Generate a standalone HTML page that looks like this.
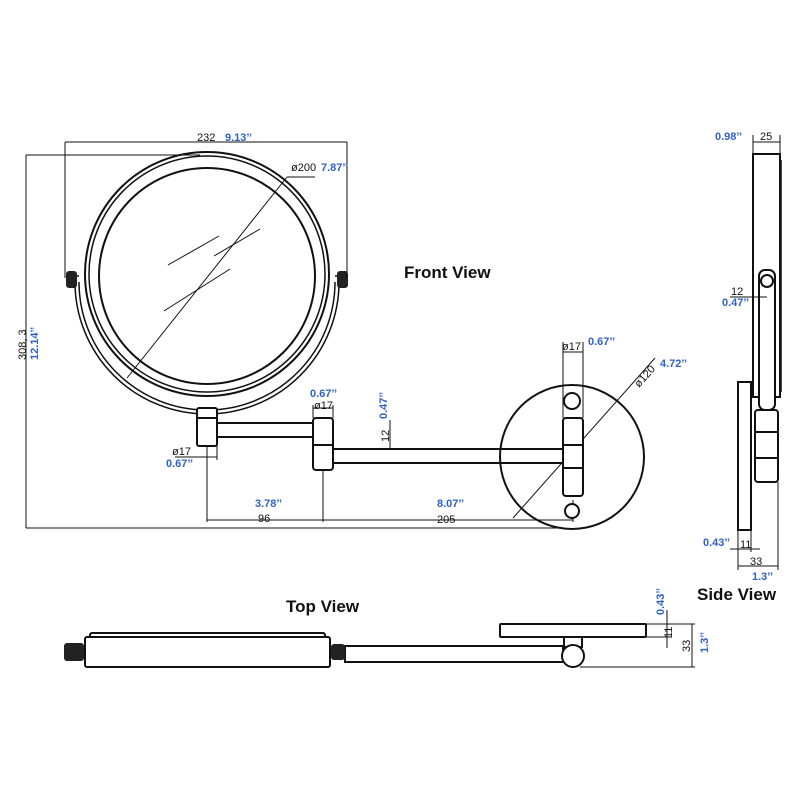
<!DOCTYPE html>
<html><head><style>
html,body{margin:0;padding:0;background:#fff;}
svg{display:block;}
text{font-family:"Liberation Sans",sans-serif;}
.k{font-size:11px;fill:#111;}
.b{font-size:11px;fill:#2f62c8;font-weight:bold;}
.t{font-size:17px;font-weight:bold;fill:#111;}
</style></head><body>
<svg width="800" height="800" viewBox="0 0 800 800" xmlns="http://www.w3.org/2000/svg">
<rect width="800" height="800" fill="#fff"/>
<g fill="none" stroke="#111" stroke-width="2">
<!-- mirror -->
<circle cx="207" cy="274" r="122"/>
<circle cx="207" cy="274" r="118" stroke-width="1.5"/>
<circle cx="207" cy="276" r="108"/>
<path d="M79 282 A128 128 0 0 0 335 282" stroke-width="1.5"/>
<path d="M75 282 A132 132 0 0 0 339 282" stroke-width="1.5"/>
<line x1="75" y1="276" x2="79" y2="276" stroke-width="1.5"/>
<line x1="335" y1="276" x2="339" y2="276" stroke-width="1.5"/>
</g>
<rect x="66" y="271" width="11" height="17" rx="3" fill="#222"/>
<rect x="337" y="271" width="11" height="17" rx="3" fill="#222"/>
<g stroke="#111" stroke-width="1" fill="none">
<line x1="127" y1="378" x2="287" y2="177"/>
<line x1="168" y1="265" x2="219" y2="236"/>
<line x1="214" y1="256" x2="260" y2="229"/>
<line x1="164" y1="311" x2="230" y2="269"/>
<line x1="287" y1="177" x2="315" y2="177"/>
<!-- dims -->
<line x1="65" y1="142" x2="347" y2="142"/>
<line x1="65" y1="142" x2="65" y2="278"/>
<line x1="347" y1="142" x2="347" y2="278"/>
<line x1="26" y1="155" x2="26" y2="528"/>
<line x1="26" y1="155" x2="200" y2="155"/>
<line x1="26" y1="528" x2="560" y2="528"/>
<line x1="207" y1="447" x2="207" y2="522"/>
<line x1="323" y1="470" x2="323" y2="522"/>
<line x1="207" y1="520" x2="573" y2="520"/>
<line x1="573" y1="500" x2="573" y2="522"/>
<line x1="175" y1="457" x2="217" y2="457"/>
<line x1="217" y1="445" x2="217" y2="460"/>
<line x1="313" y1="405" x2="313" y2="418"/>
<line x1="333" y1="405" x2="333" y2="418"/>
<line x1="313" y1="408" x2="333" y2="408"/>
<line x1="390" y1="420" x2="390" y2="463"/>
<line x1="563" y1="342" x2="563" y2="418"/>
<line x1="583" y1="342" x2="583" y2="418"/>
<line x1="563" y1="352" x2="583" y2="352"/>
<line x1="513" y1="518" x2="655" y2="358"/>
</g>
<!-- arm -->
<g fill="#fff" stroke="#111" stroke-width="2">
<rect x="217" y="423" width="98" height="14"/>
<rect x="333" y="449" width="232" height="14"/>
<rect x="197" y="408" width="20" height="38" rx="2"/>
<line x1="197" y1="418" x2="217" y2="418"/>
<rect x="313" y="418" width="20" height="52" rx="3"/>
<line x1="313" y1="445" x2="333" y2="445"/>
<circle cx="572" cy="457" r="72" fill="none"/>
<circle cx="572" cy="401" r="8"/>
<circle cx="572" cy="511" r="7"/>
<rect x="563" y="418" width="20" height="78" rx="3"/>
<line x1="563" y1="445" x2="583" y2="445"/>
<line x1="563" y1="468" x2="583" y2="468"/>
</g>
<!-- side view -->
<g fill="#fff" stroke="#111" stroke-width="2">
<rect x="753" y="154" width="27" height="243"/>
<line x1="781" y1="160" x2="781" y2="392" stroke-width="1.5"/>
<rect x="759" y="270" width="16" height="140" rx="6"/>
<circle cx="767" cy="281" r="6"/>
<rect x="738" y="382" width="13" height="148"/>
<rect x="755" y="410" width="23" height="72" rx="3"/>
<line x1="755" y1="432" x2="778" y2="432"/>
<line x1="755" y1="458" x2="778" y2="458"/>
</g>
<g stroke="#111" stroke-width="1" fill="none">
<line x1="753" y1="142" x2="780" y2="142"/>
<line x1="753" y1="135" x2="753" y2="154"/><line x1="780" y1="135" x2="780" y2="154"/>
<line x1="730" y1="297" x2="767" y2="297"/>
<line x1="730" y1="549" x2="760" y2="549"/>
<line x1="738" y1="530" x2="738" y2="570"/><line x1="751" y1="530" x2="751" y2="552"/>
<line x1="778" y1="482" x2="778" y2="570"/>
<line x1="738" y1="566" x2="778" y2="566"/>
</g>
<!-- top view -->
<g fill="#fff" stroke="#111" stroke-width="2">
<rect x="345" y="646" width="218" height="16"/>
<rect x="90" y="633" width="235" height="5" rx="2"/>
<rect x="85" y="637" width="245" height="30" rx="2"/>
<rect x="500" y="624" width="146" height="13" rx="1"/>
<rect x="564" y="637" width="18" height="10"/>
<circle cx="573" cy="656" r="11"/>
</g>
<rect x="64" y="643" width="20" height="18" rx="3" fill="#222"/>
<rect x="331" y="644" width="14" height="16" rx="3" fill="#222"/>
<g stroke="#111" stroke-width="1" fill="none">
<line x1="646" y1="624" x2="695" y2="624"/>
<line x1="646" y1="637" x2="672" y2="637"/>
<line x1="580" y1="667" x2="695" y2="667"/>
<line x1="667" y1="610" x2="667" y2="648"/>
<line x1="692" y1="624" x2="692" y2="667"/>
</g>
<!-- labels -->
<text class="k" x="197" y="141">232</text><text class="b" x="225" y="141">9.13’’</text>
<text class="k" x="291" y="171">ø200</text><text class="b" x="321" y="171">7.87’’</text>
<text class="k" transform="translate(26,360) rotate(-90)">308, 3</text>
<text class="b" transform="translate(38,360) rotate(-90)">12.14’’</text>
<text class="t" x="404" y="278">Front View</text>
<text class="b" x="310" y="397">0.67’’</text><text class="k" x="314" y="409">ø17</text>
<text class="b" transform="translate(387,419) rotate(-90)">0.47’’</text>
<text class="k" transform="translate(389,442) rotate(-90)">12</text>
<text class="k" x="172" y="455">ø17</text><text class="b" x="166" y="467">0.67’’</text>
<text class="b" x="255" y="507">3.78’’</text><text class="k" x="258" y="522">96</text>
<text class="b" x="437" y="507">8.07’’</text><text class="k" x="437" y="523">205</text>
<text class="k" x="562" y="350">ø17</text><text class="b" x="588" y="345">0.67’’</text>
<text class="k" transform="translate(639,388) rotate(-48)">ø120</text>
<text class="b" x="660" y="367">4.72’’</text>
<text class="b" x="715" y="140">0.98’’</text><text class="k" x="760" y="140">25</text>
<text class="k" x="731" y="295">12</text><text class="b" x="722" y="306">0.47’’</text>
<text class="b" x="703" y="546">0.43’’</text><text class="k" x="740" y="548">11</text>
<text class="k" x="750" y="565">33</text><text class="b" x="752" y="580">1.3’’</text>
<text class="t" x="697" y="600">Side View</text>
<text class="t" x="286" y="612">Top View</text>
<text class="b" transform="translate(664,615) rotate(-90)">0.43’’</text>
<text class="k" transform="translate(672,638) rotate(-90)">11</text>
<text class="k" transform="translate(690,652) rotate(-90)">33</text>
<text class="b" transform="translate(708,653) rotate(-90)">1.3’’</text>
</svg>
</body></html>
